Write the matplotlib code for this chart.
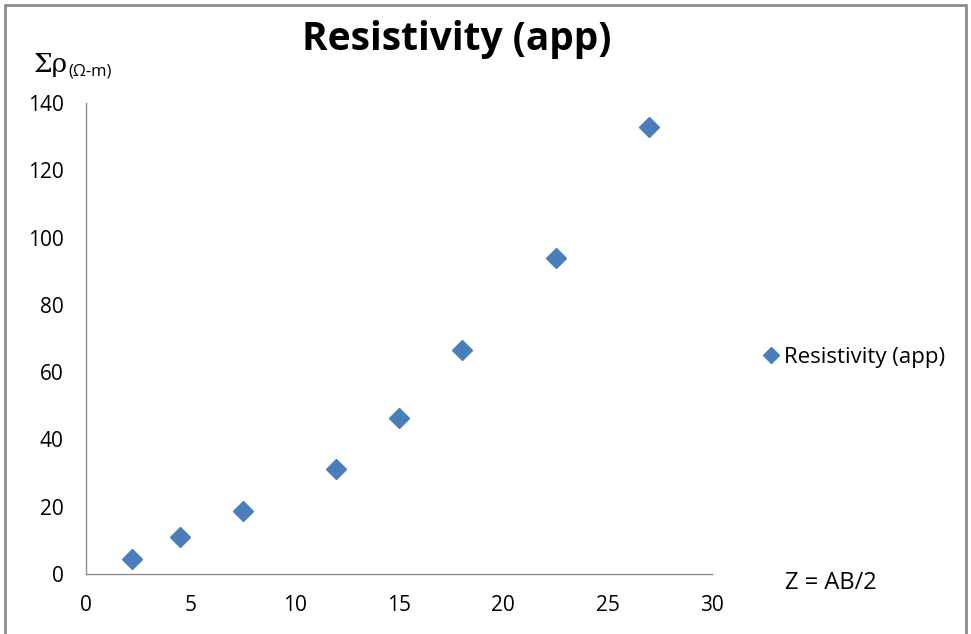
import matplotlib.pyplot as plt
from matplotlib.patches import Rectangle

# data
z_ab2 = [2.2, 4.5, 7.5, 12, 15, 18, 22.5, 27]
resistivity = [4.5, 11, 18.7, 31.2, 46.4, 66.6, 93.9, 132.9]
x_ticks = [0, 5, 10, 15, 20, 25, 30]
y_ticks = [0, 20, 40, 60, 80, 100, 120, 140]

plt.rcParams['font.family'] = ['Open Sans', 'DejaVu Sans']

fig = plt.figure(figsize=(9.71, 6.34), dpi=100)
ax = fig.add_axes([86 / 971, 1 - 574 / 634, (712 - 86) / 971, (574 - 103) / 634])

ax.plot(z_ab2, resistivity, linestyle='none', marker='D', markersize=10.5,
        color='#4a7ebb', label='Resistivity (app)')

ax.set_xlim(0, 30)
ax.set_ylim(0, 140)
ax.set_xticks(x_ticks)
ax.set_yticks(y_ticks)
ax.tick_params(length=0, labelsize=15, colors='black')
ax.tick_params(axis='x', pad=15)
ax.tick_params(axis='y', pad=16)

for s in ['top', 'right']:
    ax.spines[s].set_visible(False)
for s in ['left', 'bottom']:
    ax.spines[s].set_color('#8c8c8c')
    ax.spines[s].set_linewidth(1)

fig.text(457 / 971, 1 - 50 / 634, 'Resistivity (app)', fontsize=28, fontweight='bold',
         ha='center', va='baseline')

# y-axis label: Σρ(Ω-m)
fig.text(34 / 971, 1 - 72 / 634, 'Σρ', fontsize=19, ha='left', va='baseline',
         family=['DejaVu Serif'])
fig.text(68 / 971, 1 - 76 / 634, '(Ω-m)', fontsize=12, ha='left', va='baseline')

fig.text(785 / 971, 1 - 589 / 634, 'Z = AB/2', fontsize=17, ha='left', va='baseline')

leg = ax.legend(loc='center left', bbox_to_anchor=(765 / 971, 1 - 357 / 634),
                bbox_transform=fig.transFigure, frameon=False, fontsize=16,
                handlelength=0.5, handletextpad=0.35, markerscale=0.75,
                borderpad=0, borderaxespad=0)

fig.patches.append(Rectangle((5 / 971, -0.01), 961 / 971, 1 - 5 / 634 + 0.01,
                             transform=fig.transFigure, fill=False,
                             edgecolor='#8c8c8c', linewidth=2))

fig.savefig('out.png', dpi=100)
